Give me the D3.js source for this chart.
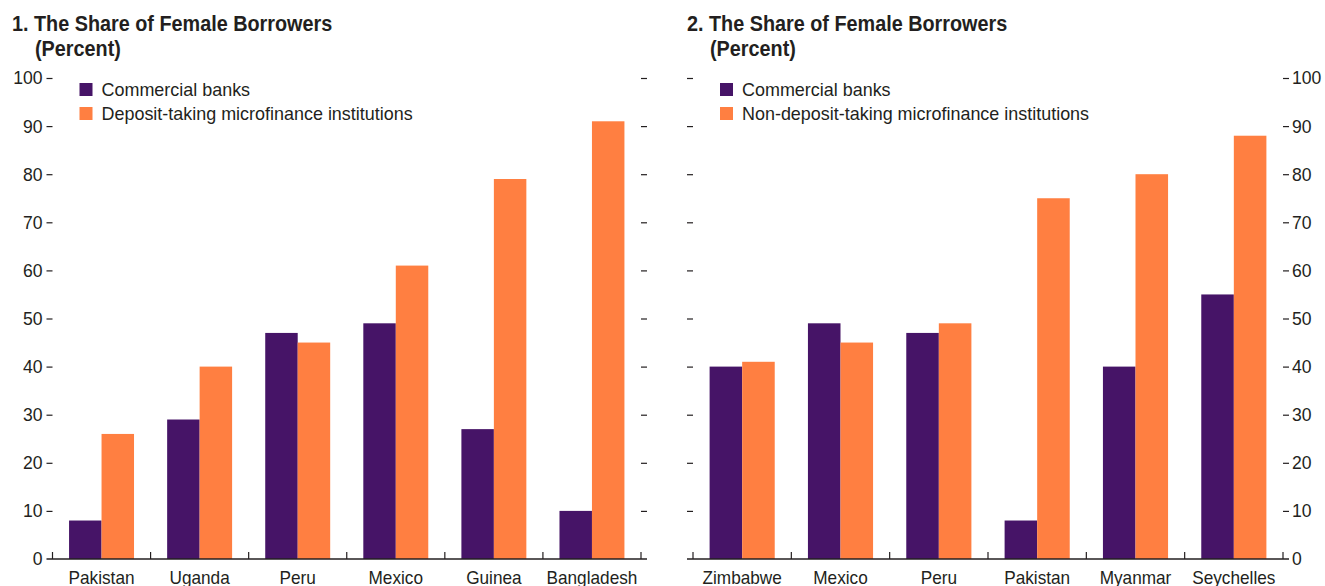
<!DOCTYPE html>
<html>
<head>
<meta charset="utf-8">
<script src="https://cdn.jsdelivr.net/npm/d3@7"></script>
<style>
  html, body { margin: 0; padding: 0; background: #fff; }
  svg { display: block; }
  text { font-family: "Liberation Sans", Arial, sans-serif; fill: #231f20; }
</style>
</head>
<body>
<svg id="chart" width="1325" height="586"></svg>
<script>
// values
let seriesNames = ["banks", "mfi"];
let yTicks = [0, 10, 20, 30, 40, 50, 60, 70, 80, 90, 100];

let countries1 = ["Pakistan", "Uganda", "Peru", "Mexico", "Guinea", "Bangladesh"];
let banks1 = [8, 29, 47, 49, 27, 10];
let mfi1 = [26, 40, 45, 61, 79, 91];
let legend1 = ["Commercial banks", "Deposit-taking microfinance institutions"];

let countries2 = ["Zimbabwe", "Mexico", "Peru", "Pakistan", "Myanmar", "Seychelles"];
let banks2 = [40, 49, 47, 8, 40, 55];
let mfi2 = [41, 45, 49, 75, 80, 88];
let legend2 = ["Commercial banks", "Non-deposit-taking microfinance institutions"];

let colors = ["#461467", "#ff7f41"];

let svg = d3.select("#chart");
let y = d3.scaleLinear().domain([0, 100]).range([559, 78]);

// no condensed font installed, so squeeze the glyphs horizontally
function squeeze(sel, k) {
    sel.each(function () {
        let w = this.getComputedTextLength();
        if (w > 0) d3.select(this).attr("textLength", w * k).attr("lengthAdjust", "spacingAndGlyphs");
    });
}

function panel(opts) {
    let g = svg.append("g");
    let x = d3.scaleBand().domain(opts.cats).range([opts.x0, opts.x1]).padding(0);
    let xs = d3.scaleBand().domain(seriesNames).range([0, x.bandwidth()]).paddingInner(0).paddingOuter(0.51);

    // titles
    g.append("text").attr("x", opts.titleX).attr("y", 31)
        .style("font-size", "22px").style("font-weight", "bold")
        .text(opts.title).call(squeeze, 0.9);
    g.append("text").attr("x", opts.titleX + 23).attr("y", 56)
        .style("font-size", "22px").style("font-weight", "bold")
        .text("(Percent)").call(squeeze, 0.9);

    // left and right y axes
    let left = d3.axisLeft(y).tickValues(yTicks).tickSize(6).tickPadding(4);
    let right = d3.axisRight(y).tickValues(yTicks).tickSize(6).tickPadding(3);
    if (!opts.leftLabels) left.tickFormat("");
    if (!opts.rightLabels) right.tickFormat("");
    [g.append("g").attr("transform", `translate(${opts.x0},0)`).call(left),
     g.append("g").attr("transform", `translate(${opts.x1},0)`).call(right)].forEach(a => {
        a.select(".domain").remove();
        a.selectAll(".tick line").attr("stroke", "#231f20").attr("stroke-width", 1.2);
        a.selectAll(".tick text").style("font-size", "18.5px").style("font-family", null)
            .attr("fill", "#231f20").call(squeeze, 0.95);
        a.selectAll(".tick").filter(d => d === 0).select("line").remove();
    });

    // bars
    let rows = opts.cats.map((c, i) => ({ cat: c, banks: opts.banks[i], mfi: opts.mfi[i] }));
    g.append("g").selectAll("g").data(rows).join("g")
        .attr("transform", d => `translate(${x(d.cat)},0)`)
        .selectAll("rect")
        .data(d => seriesNames.map(s => ({ key: s, value: d[s] })))
        .join("rect")
        .attr("x", d => xs(d.key))
        .attr("width", xs.bandwidth())
        .attr("y", d => y(d.value))
        .attr("height", d => y(0) - y(d.value))
        .attr("fill", (d, i) => colors[i]);

    // x axis line, category separators and labels
    g.append("line").attr("x1", opts.x0 - 6).attr("x2", opts.x1 + 6)
        .attr("y1", y(0)).attr("y2", y(0)).attr("stroke", "#231f20").attr("stroke-width", 1.5);
    let bounds = opts.cats.map(c => x(c)).concat([opts.x1]);
    g.append("g").selectAll("line").data(bounds).join("line")
        .attr("x1", d => d).attr("x2", d => d)
        .attr("y1", y(0)).attr("y2", y(0) - 7)
        .attr("stroke", "#231f20").attr("stroke-width", 1.2);
    g.append("g").selectAll("text").data(opts.cats).join("text")
        .attr("x", d => x(d) + x.bandwidth() / 2)
        .attr("y", 584)
        .attr("text-anchor", "middle")
        .style("font-size", "18.5px")
        .text(d => d).call(squeeze, 0.93);

    // legend
    let lg = g.append("g").selectAll("g").data(opts.legend).join("g")
        .attr("transform", (d, i) => `translate(${opts.x0 + 27},${83 + i * 24})`);
    lg.append("rect").attr("width", 13).attr("height", 13).attr("fill", (d, i) => colors[i]);
    lg.append("text").attr("x", 22).attr("y", 13).style("font-size", "18.6px")
        .text(d => d).call(squeeze, 0.965);
}

panel({ x0: 52.5, x1: 641, titleX: 12, title: "1. The Share of Female Borrowers",
        cats: countries1, banks: banks1, mfi: mfi1, legend: legend1, leftLabels: true, rightLabels: false });
panel({ x0: 693, x1: 1283, titleX: 687, title: "2. The Share of Female Borrowers",
        cats: countries2, banks: banks2, mfi: mfi2, legend: legend2, leftLabels: false, rightLabels: true });
</script>
</body>
</html>
